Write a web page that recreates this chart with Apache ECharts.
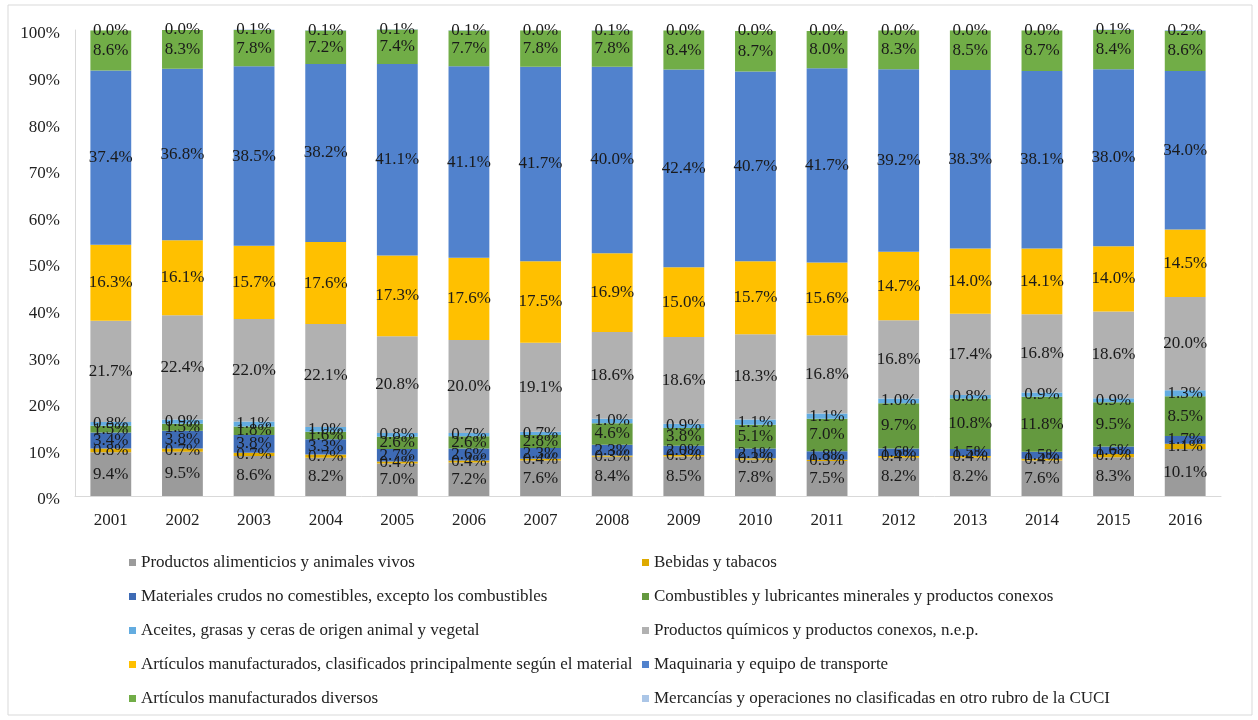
<!DOCTYPE html>
<html>
<head>
<meta charset="utf-8">
<script src="https://cdn.jsdelivr.net/npm/echarts@6/dist/echarts.min.js"></script>
<style>
  html, body { margin: 0; padding: 0; background: #fff; }
  #chart { width: 1258px; height: 720px; }
</style>
</head>
<body>
<div id="chart"></div>
<script>
const years = ['2001', '2002', '2003', '2004', '2005', '2006', '2007', '2008',
               '2009', '2010', '2011', '2012', '2013', '2014', '2015', '2016'];

const alimenticios = [9.4, 9.5, 8.6, 8.2, 7.0, 7.2, 7.6, 8.4, 8.5, 7.8, 7.5, 8.2, 8.2, 7.6, 8.3, 10.1];
const bebidas      = [0.8, 0.7, 0.7, 0.7, 0.4, 0.4, 0.4, 0.3, 0.3, 0.3, 0.3, 0.4, 0.4, 0.4, 0.7, 1.1];
const materiales   = [3.4, 3.8, 3.8, 3.3, 2.7, 2.6, 2.3, 2.3, 2.0, 2.1, 1.8, 1.6, 1.5, 1.5, 1.6, 1.7];
const combustibles = [1.5, 1.5, 1.8, 1.6, 2.6, 2.6, 2.8, 4.6, 3.8, 5.1, 7.0, 9.7, 10.8, 11.8, 9.5, 8.5];
const aceites      = [0.8, 0.9, 1.1, 1.0, 0.8, 0.7, 0.7, 1.0, 0.9, 1.1, 1.1, 1.0, 0.8, 0.9, 0.9, 1.3];
const quimicos     = [21.7, 22.4, 22.0, 22.1, 20.8, 20.0, 19.1, 18.6, 18.6, 18.3, 16.8, 16.8, 17.4, 16.8, 18.6, 20.0];
const manufMaterial = [16.3, 16.1, 15.7, 17.6, 17.3, 17.6, 17.5, 16.9, 15.0, 15.7, 15.6, 14.7, 14.0, 14.1, 14.0, 14.5];
const maquinaria   = [37.4, 36.8, 38.5, 38.2, 41.1, 41.1, 41.7, 40.0, 42.4, 40.7, 41.7, 39.2, 38.3, 38.1, 38.0, 34.0];
const diversos     = [8.6, 8.3, 7.8, 7.2, 7.4, 7.7, 7.8, 7.8, 8.4, 8.7, 8.0, 8.3, 8.5, 8.7, 8.4, 8.6];
const mercancias   = [0.0, 0.0, 0.1, 0.1, 0.1, 0.1, 0.0, 0.1, 0.0, 0.0, 0.0, 0.0, 0.0, 0.0, 0.1, 0.2];

const yTicks = [0, 10, 20, 30, 40, 50, 60, 70, 80, 90, 100];

const seriesDefs = [
  { name: 'Productos alimenticios y animales vivos', data: alimenticios, color: '#9b9b9b' },
  { name: 'Bebidas y tabacos', data: bebidas, color: '#deaa00' },
  { name: 'Materiales crudos no comestibles, excepto los combustibles', data: materiales, color: '#3e6bb5' },
  { name: 'Combustibles y lubricantes minerales y productos conexos', data: combustibles, color: '#64993f' },
  { name: 'Aceites, grasas y ceras de origen animal y vegetal', data: aceites, color: '#63ace0' },
  { name: 'Productos químicos y productos conexos, n.e.p.', data: quimicos, color: '#b1b1b1' },
  { name: 'Artículos manufacturados, clasificados principalmente según el material', data: manufMaterial, color: '#ffc000' },
  { name: 'Maquinaria y equipo de transporte', data: maquinaria, color: '#5182cd' },
  { name: 'Artículos manufacturados diversos', data: diversos, color: '#71ad47' },
  { name: 'Mercancías y operaciones no clasificadas en otro rubro de la CUCI', data: mercancias, color: '#abc6e7' }
];

const font = '"Liberation Serif", "Times New Roman", serif';

const chart = echarts.init(document.getElementById('chart'));

const legendBase = {
  orient: 'vertical',
  itemWidth: 7,
  itemHeight: 7,
  itemGap: 17,
  icon: 'rect',
  textStyle: { fontFamily: font, fontSize: 17, color: '#222', lineHeight: 17 }
};

chart.setOption({
  animation: false,
  graphic: [{
    type: 'rect',
    shape: { x: 8, y: 5, width: 1244, height: 710 },
    style: { fill: 'none', stroke: '#d9d9d9', lineWidth: 1 }
  }],
  grid: { left: 75, right: 37, top: 30, bottom: 224 },
  legend: [
    Object.assign({}, legendBase, {
      left: 124, top: 549,
      data: seriesDefs.filter((s, i) => i % 2 === 0).map(s => s.name)
    }),
    Object.assign({}, legendBase, {
      left: 637, top: 549,
      data: seriesDefs.filter((s, i) => i % 2 === 1).map(s => s.name)
    })
  ],
  xAxis: {
    type: 'category',
    data: years,
    axisLine: { lineStyle: { color: '#d9d9d9' } },
    axisTick: { show: false },
    axisLabel: { fontFamily: font, fontSize: 17, color: '#222', margin: 16 }
  },
  yAxis: {
    type: 'value',
    min: yTicks[0],
    max: yTicks[yTicks.length - 1],
    interval: 10,
    axisLine: { show: true, lineStyle: { color: '#d9d9d9' } },
    axisTick: { show: false },
    splitLine: { show: false },
    axisLabel: {
      margin: 15,
      formatter: v => '{v|' + v + '%}',
      rich: { v: { fontFamily: font, fontSize: 17, color: '#222', padding: [8, 0, 0, 0] } }
    }
  },
  series: seriesDefs.map((s, i) => ({
    name: s.name,
    type: 'bar',
    stack: 'total',
    barWidth: '57%',
    clip: false,
    data: s.data,
    itemStyle: { color: s.color },
    label: {
      show: true,
      position: 'inside',
      offset: i === seriesDefs.length - 1 ? [0, 4] : [0, 0],
      fontFamily: font,
      fontSize: 17,
      color: '#1a1a1a',
      formatter: p => p.value.toFixed(1) + '%'
    },
    labelLayout: { hideOverlap: false }
  }))
});
</script>
</body>
</html>
